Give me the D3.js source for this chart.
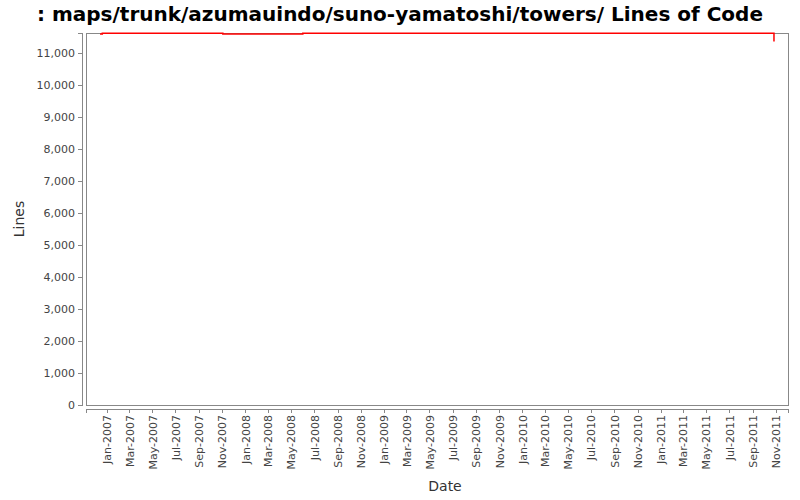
<!DOCTYPE html>
<html lang="en">
<head>
    <meta charset="UTF-8">
    <title>Lines of Code</title>
    <script src="https://d3js.org/d3.v7.min.js"></script>
    <style>
        body { margin: 0; background: #fff; }
        .axis path, .axis line { fill: none; stroke: #888; shape-rendering: crispEdges; }
        .axis text { font-family: "DejaVu Sans", sans-serif; font-size: 11px; fill: #444; }
        .axis-label { font-family: "DejaVu Sans", sans-serif; font-size: 14px; fill: #333; }
    </style>
</head>
<body>
    <svg width="800" height="500"></svg>
    <script>
        // data
        const dates = ["2006-12-14", "2006-12-20", "2007-11-03", "2008-06-01", "2011-10-26", "2011-10-27"];
        const lines = [11590, 11620, 11590, 11620, 11620, 11360];
        const yTicks = [0, 1000, 2000, 3000, 4000, 5000, 6000, 7000, 8000, 9000, 10000, 11000];

        const parse = d3.timeParse("%Y-%m-%d");
        const data = dates.map((d, i) => ({ date: parse(d), value: lines[i] }));

        const margin = {top: 33, right: 12, bottom: 95, left: 86},
              width = 800 - margin.left - margin.right,
              height = 500 - margin.top - margin.bottom;

        const x = d3.scaleTime()
            .domain([parse("2006-11-07"), parse("2011-12-03")])
            .range([0, width]);

        const y = d3.scaleLinear()
            .domain([0, 11625])
            .range([height, 0]);

        const svg = d3.select("svg");

        svg.append("text")
            .attr("x", 400)
            .attr("y", 21)
            .attr("text-anchor", "middle")
            .style("font-family", "DejaVu Sans, sans-serif")
            .style("font-size", "20px")
            .style("font-weight", "bold")
            .text(": maps/trunk/azumauindo/suno-yamatoshi/towers/ Lines of Code");

        const g = svg.append("g")
            .attr("transform", "translate(" + margin.left + "," + margin.top + ")");

        // plot background / outline
        g.append("rect")
            .attr("x", 0).attr("y", 0)
            .attr("width", width).attr("height", height)
            .attr("fill", "#fff")
            .attr("stroke", "#888")
            .attr("shape-rendering", "crispEdges");

        // step-like line
        const line = d3.line()
            .x(d => x(d.date))
            .y(d => y(d.value))
            .curve(d3.curveStepAfter);

        g.append("path")
            .datum(data)
            .attr("fill", "none")
            .attr("stroke", "#ff0000")
            .attr("stroke-width", 1.5)
            .attr("d", line);

        // y axis, pushed out a bit from the plot
        g.append("g")
            .attr("class", "axis")
            .attr("transform", "translate(-4,0)")
            .call(d3.axisLeft(y).tickValues(yTicks).tickFormat(d3.format(",")).tickSizeOuter(0).tickSize(4).tickPadding(3));

        // x axis: every second month
        const xTicks = d3.timeMonth.every(2).range(parse("2007-01-01"), parse("2011-12-01"));
        const xAxis = g.append("g")
            .attr("class", "axis")
            .attr("transform", "translate(0," + (height + 4) + ")")
            .call(d3.axisBottom(x).tickValues(xTicks).tickFormat(d3.timeFormat("%b-%Y")).tickSizeOuter(0).tickSize(4));

        xAxis.selectAll(".tick text")
            .attr("transform", "rotate(-90)")
            .attr("text-anchor", "end")
            .attr("x", -6)
            .attr("y", 0)
            .attr("dy", "0.35em");

        g.append("text")
            .attr("class", "axis-label")
            .attr("transform", "rotate(-90)")
            .attr("x", -height / 2)
            .attr("y", -62)
            .attr("text-anchor", "middle")
            .text("Lines");

        g.append("text")
            .attr("class", "axis-label")
            .attr("x", width / 2 + 8)
            .attr("y", height + 86)
            .attr("text-anchor", "middle")
            .text("Date");
    </script>
</body>
</html>
